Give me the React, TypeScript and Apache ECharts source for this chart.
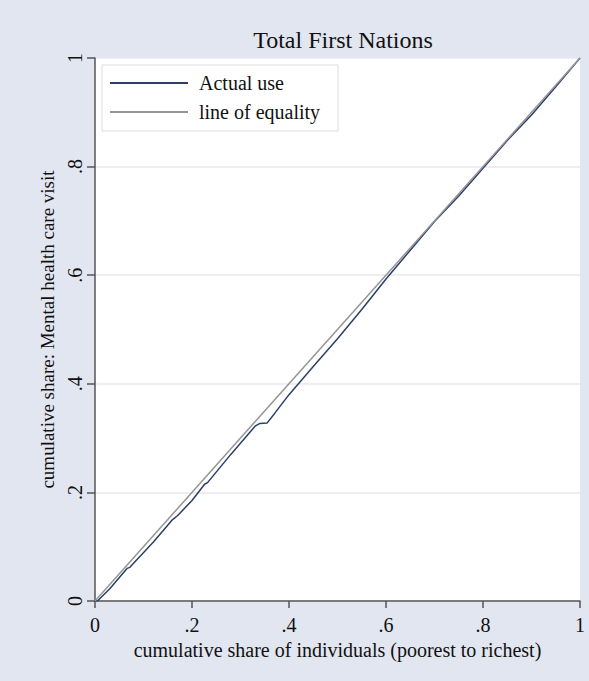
import React, { useEffect, useRef } from "react";
import * as echarts from "echarts";

const titleText = "Total First Nations";
const xAxisTitle = "cumulative share of individuals (poorest to richest)";
const yAxisTitle = "cumulative share: Mental health care visit";
const seriesNames = ["Actual use", "line of equality"];

const actualX = [0, 0.005, 0.03, 0.066, 0.072, 0.08, 0.12, 0.16, 0.17, 0.2, 0.226, 0.232, 0.28, 0.33, 0.34, 0.355, 0.37, 0.4, 0.45, 0.5, 0.55, 0.6, 0.65, 0.7, 0.75, 0.8, 0.85, 0.9, 0.95, 1];
const actualY = [0, 0, 0.022, 0.06, 0.062, 0.07, 0.108, 0.15, 0.157, 0.185, 0.215, 0.218, 0.27, 0.322, 0.327, 0.328, 0.345, 0.38, 0.432, 0.483, 0.537, 0.593, 0.646, 0.699, 0.746, 0.797, 0.848, 0.895, 0.947, 1];
const equalityX = [0, 1];
const equalityY = [0, 1];

const fmt = (v: number) => {
  if (v === 0) return "0";
  if (v === 1) return "1";
  return String(Math.round(v * 10) / 10).replace(/^0\./, ".");
};

export default function App() {
  const ref = useRef<HTMLDivElement>(null);
  useEffect(() => {
    document.body.style.margin = "0";
    const chart = echarts.init(ref.current!, undefined, { renderer: "svg" });
    const font = "'Liberation Serif', 'Times New Roman', serif";
    chart.setOption({
      animation: false,
      backgroundColor: "#e2e6f0",
      textStyle: { fontFamily: font },
      title: {
        text: titleText,
        left: 338,
        textAlign: "center",
        top: 23,
        textStyle: { fontFamily: font, fontSize: 24, fontWeight: "normal", color: "#111" },
      },
      legend: {
        orient: "vertical",
        left: 102,
        top: 65,
        backgroundColor: "#ffffff",
        borderColor: "#dcdde2",
        borderWidth: 1,
        padding: [8, 18, 9, 8],
        itemGap: 9,
        itemWidth: 78,
        itemHeight: 2,
        icon: "rect",
        textStyle: { fontFamily: font, fontSize: 20, color: "#111", padding: [0, 0, 0, 6] },
        data: seriesNames,
      },
      grid: {
        left: 95,
        right: 9,
        top: 58,
        bottom: 80,
        show: true,
        backgroundColor: "#ffffff",
        borderWidth: 0,
      },
      xAxis: {
        type: "value",
        min: 0,
        max: 1,
        interval: 0.2,
        name: xAxisTitle,
        nameLocation: "middle",
        nameGap: 39,
        nameTextStyle: { fontFamily: font, fontSize: 20, color: "#111" },
        axisLine: { show: true, lineStyle: { color: "#555", width: 1.5 } },
        axisTick: { show: true, length: 7, lineStyle: { color: "#555", width: 1.5 } },
        axisLabel: { formatter: fmt, fontFamily: font, fontSize: 20, color: "#111", margin: 14 },
        splitLine: { show: false },
      },
      yAxis: {
        type: "value",
        min: 0,
        max: 1,
        interval: 0.2,
        name: yAxisTitle,
        nameLocation: "middle",
        nameGap: 36,
        nameRotate: 90,
        nameTextStyle: { fontFamily: font, fontSize: 19, color: "#111" },
        axisLine: { show: true, lineStyle: { color: "#555", width: 1.5 } },
        axisTick: { show: true, length: 8, lineStyle: { color: "#555", width: 1.5 } },
        axisLabel: { formatter: fmt, rotate: 90, fontFamily: font, fontSize: 20, color: "#111", margin: 10 },
        splitLine: { show: true, lineStyle: { color: "#e6e8f0", width: 1.5 } },
      },
      series: [
        {
          name: seriesNames[0],
          type: "line",
          data: actualX.map((x, i) => [x, actualY[i]]),
          showSymbol: false,
          symbol: "none",
          lineStyle: { color: "#2b3d68", width: 1.5 },
          itemStyle: { color: "#2b3d68" },
        },
        {
          name: seriesNames[1],
          type: "line",
          data: equalityX.map((x, i) => [x, equalityY[i]]),
          showSymbol: false,
          symbol: "none",
          lineStyle: { color: "#959595", width: 1.5 },
          itemStyle: { color: "#959595" },
        },
      ],
    });
    return () => chart.dispose();
  }, []);
  return <div ref={ref} style={{ width: 589, height: 681 }} />;
}
